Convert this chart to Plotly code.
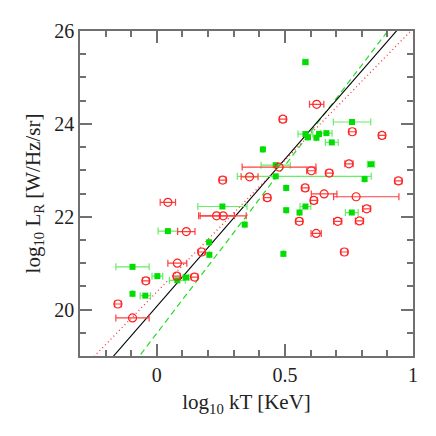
"""Radio luminosity vs. cluster temperature, two samples with fit lines."""

import plotly.graph_objects as go

# sample A: filled green squares
green_kt = [0.580, 0.762, 0.580, 0.590, 0.623, 0.633, 0.662, 0.683, 0.414, 0.836,
            0.464, 0.464, 0.811, 0.505, 0.505, 0.557, 0.580, 0.761, 0.256, 0.343,
            0.494, 0.043, 0.204, 0.205, -0.095, 0.002, 0.080, 0.114, -0.095, -0.045]
green_lr = [25.33, 24.04, 23.78, 23.71, 23.70, 23.78, 23.80, 23.60, 23.45, 23.13,
            23.11, 22.87, 22.81, 22.62, 22.14, 22.09, 22.22, 22.09, 22.22, 21.83,
            21.20, 21.69, 21.45, 21.18, 20.92, 20.72, 20.63, 20.69, 20.34, 20.30]
green_err_lo = [0.010, 0.073, 0.029, 0.0, 0.0, 0.0, 0.022, 0.025, 0.0, 0.014,
                0.057, 0.150, 0.0, 0.0, 0.0, 0.0, 0.021, 0.025, 0.096, 0.0,
                0.0, 0.038, 0.0, 0.0, 0.065, 0.021, 0.031, 0.012, 0.0, 0.020]
green_err_hi = [0.010, 0.073, 0.029, 0.0, 0.0, 0.0, 0.022, 0.025, 0.0, 0.014,
                0.057, 0.373, 0.0, 0.0, 0.0, 0.0, 0.021, 0.025, 0.096, 0.0,
                0.0, 0.038, 0.0, 0.0, 0.065, 0.021, 0.031, 0.012, 0.0, 0.020]

# sample B: open red circles
red_kt = [0.624, 0.492, 0.763, 0.879, 0.750, 0.477, 0.603, 0.673, 0.362, 0.257,
          0.943, 0.579, 0.653, 0.778, 0.613, 0.431, 0.819, 0.556, 0.706, 0.791,
          0.622, 0.732, 0.233, 0.259, 0.043, 0.115, 0.175, 0.080, 0.078, 0.147,
          -0.043, -0.152, -0.095]
red_lr = [24.42, 24.10, 23.83, 23.75, 23.14, 23.07, 22.99, 22.94, 22.86, 22.79,
          22.77, 22.62, 22.49, 22.43, 22.35, 22.41, 22.17, 21.90, 21.90, 21.91,
          21.64, 21.24, 22.02, 22.02, 22.31, 21.68, 21.24, 21.00, 20.72, 20.70,
          20.62, 20.12, 19.82]
red_err_lo = [0.028, 0.013, 0.013, 0.013, 0.016, 0.144, 0.018, 0.013, 0.033, 0.013,
              0.014, 0.013, 0.050, 0.088, 0.013, 0.013, 0.016, 0.013, 0.016, 0.016,
              0.020, 0.013, 0.070, 0.090, 0.030, 0.034, 0.013, 0.037, 0.013, 0.013,
              0.013, 0.013, 0.065]
red_err_hi = [0.028, 0.013, 0.013, 0.013, 0.016, 0.144, 0.018, 0.013, 0.033, 0.013,
              0.014, 0.013, 0.050, 0.167, 0.013, 0.013, 0.016, 0.013, 0.016, 0.016,
              0.020, 0.013, 0.070, 0.090, 0.030, 0.034, 0.013, 0.037, 0.013, 0.013,
              0.013, 0.013, 0.065]

# fit lines: (slope, intercept at log kT = 0)
fit_names = ["green fit", "combined fit", "red fit"]
fit_slopes = [7.22, 6.34, 5.67]
fit_intercepts = [19.49, 20.07, 20.38]

X_RANGE = [-0.3, 1.0]
Y_RANGE = [19.0, 26.0]
FONT = "Liberation Serif"

fig = go.Figure()

fit_styles = [
    dict(color="#22dd22", width=1.2, dash="6px,4px"),
    dict(color="black", width=1.1),
    dict(color="#ff3030", width=1.3, dash="1px,3px"),
]
for name, m, b, style in zip(fit_names, fit_slopes, fit_intercepts, fit_styles):
    xs = [X_RANGE[0], X_RANGE[1]]
    fig.add_trace(go.Scatter(
        x=xs, y=[b + m * v for v in xs], mode="lines", name=name,
        line=style, hoverinfo="skip",
    ))

fig.add_trace(go.Scatter(
    x=green_kt, y=green_lr, mode="markers", name="sample A",
    marker=dict(symbol="square", size=6, color="#00dd00"),
    error_x=dict(type="data", symmetric=False, array=green_err_hi,
                 arrayminus=green_err_lo, color="#66ee66", thickness=1.2, width=3.5),
))

fig.add_trace(go.Scatter(
    x=red_kt, y=red_lr, mode="markers", name="sample B",
    marker=dict(symbol="circle-open", size=8, color="#ff2020", line=dict(width=1.2)),
    error_x=dict(type="data", symmetric=False, array=red_err_hi,
                 arrayminus=red_err_lo, color="#ff4040", thickness=1.2, width=3.5),
))

axis_common = dict(
    showgrid=False, zeroline=False, showline=True, linecolor="#707070", linewidth=1.5,
    mirror="ticks", ticks="inside", ticklen=12, tickwidth=1.5, tickcolor="#707070",
    tickfont=dict(family=FONT, size=20, color="#222222"),
    title_font=dict(family=FONT, size=21, color="#222222"),
)

fig.update_xaxes(
    **axis_common, range=X_RANGE,
    tickvals=[0, 0.5, 1], ticktext=["0", "0.5", "1"],
    minor=dict(dtick=0.1, tick0=0, ticks="inside", ticklen=6, tickcolor="#707070"),
    title_text="log<sub>10</sub> kT [KeV]", title_standoff=10,
)
fig.update_yaxes(
    **axis_common, range=Y_RANGE,
    tickvals=[20, 22, 24, 26],
    minor=dict(dtick=0.5, tick0=0, ticks="inside", ticklen=6, tickcolor="#707070"),
    title_text="log<sub>10</sub> L<sub>R</sub> [W/Hz/sr]", title_standoff=8,
)

# the page adds an 8px body margin, so the plot box is shifted back by that much
fig.update_layout(
    width=436, height=436,
    margin=dict(l=72, r=31, t=16, b=88),
    plot_bgcolor="white", paper_bgcolor="white",
    showlegend=False,
)

fig.write_html("out.html")
